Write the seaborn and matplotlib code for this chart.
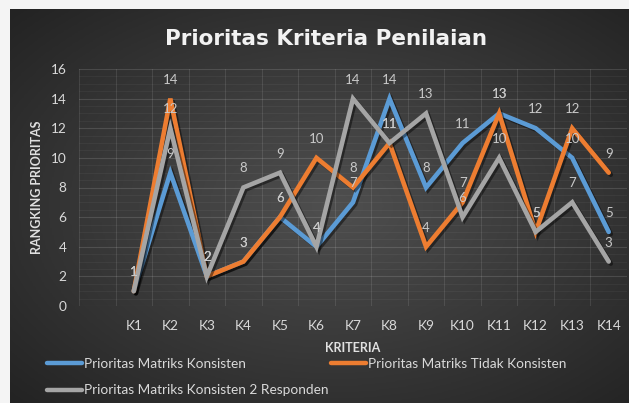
import numpy as np
import pandas as pd
import matplotlib.pyplot as plt
import matplotlib.patheffects as pe
from matplotlib.colors import LinearSegmentedColormap
from matplotlib.lines import Line2D
import seaborn as sns

# data
kriteria = ["K1", "K2", "K3", "K4", "K5", "K6", "K7", "K8", "K9", "K10", "K11", "K12", "K13", "K14"]
konsisten = [1, 9, 2, 3, 6, 4, 7, 14, 8, 11, 13, 12, 10, 5]
tidak_konsisten = [1, 14, 2, 3, 6, 10, 8, 11, 4, 7, 13, 5, 12, 9]
konsisten_2 = [1, 12, 2, 8, 9, 4, 14, 11, 13, 6, 10, 5, 7, 3]
seri = ["Prioritas Matriks Konsisten", "Prioritas Matriks Tidak Konsisten",
        "Prioritas Matriks Konsisten 2 Responden"]
warna = ["#5b9bd5", "#ed7d31", "#a5a5a5"]

sns.set_style("dark")
plt.rcParams["font.family"] = ["Lato", "DejaVu Sans"]

df = pd.DataFrame({
    "pos": list(range(len(kriteria))) * 3,
    "ranking": konsisten + tidak_konsisten + konsisten_2,
    "seri": np.repeat(seri, len(kriteria)),
})

fig = plt.figure(figsize=(6.29, 4.03), dpi=100)
fig.patch.set_facecolor("#f4f4f4")

# dark radial gradient background
bg = fig.add_axes([10 / 629, 0, 619 / 629, 394 / 403])
yy, xx = np.mgrid[0:1:300j, 0:1:400j]
d = np.clip(np.sqrt(((xx - 0.52) / 0.72) ** 2 + ((yy - 0.5) / 0.72) ** 2), 0, 1)
cmap = LinearSegmentedColormap.from_list("bg", ["#4f4f4f", "#232323"])
bg.imshow(d, cmap=cmap, aspect="auto", extent=(0, 1, 0, 1), vmin=0, vmax=1)
bg.axis("off")

ax = fig.add_axes([79 / 629, 97 / 403, 548 / 629, 237 / 403])
ax.patch.set_alpha(0)

sns.lineplot(data=df, x="pos", y="ranking", hue="seri", hue_order=seri,
             palette=warna, linewidth=3.3, legend=False, ax=ax)
for line in ax.lines:
    line.set_solid_joinstyle("miter")
    line.set_path_effects([pe.SimpleLineShadow(offset=(1.5, -1.5), shadow_color="black", alpha=0.45),
                           pe.Normal()])

# data labels
for vals in [konsisten, tidak_konsisten, konsisten_2]:
    for i, v in enumerate(vals):
        ax.annotate(str(v), (i, v), xytext=(0, 19), textcoords="offset pixels",
                    ha="center", va="center", color="#c9c9c9", fontsize=9.5)

ax.set_xlim(-1.5, 13.5)
ax.set_ylim(0, 16)
ax.set_xticks(range(len(kriteria)), kriteria)
ax.set_xticks(np.arange(-1.5, 13.6, 1), minor=True)
ax.set_yticks(range(0, 17, 2))
ax.set_yticks(np.arange(0, 16.1, 0.5), minor=True)
ax.grid(False)
ax.grid(True, which="major", axis="y", color="white", alpha=0.13, lw=0.8)
ax.grid(True, which="minor", axis="y", color="white", alpha=0.05, lw=0.6)
ax.grid(True, which="minor", axis="x", color="white", alpha=0.1, lw=0.8)
ax.tick_params(which="both", length=0, colors="#d9d9d9", labelsize=9.8)
ax.tick_params(axis="y", pad=9)
ax.tick_params(axis="x", pad=10)
for s in ax.spines.values():
    s.set_visible(False)

ax.set_ylabel("RANGKING PRIORITAS", fontweight="bold", color="#e0e0e0", fontsize=9)
ax.yaxis.set_label_coords(-0.066, 0.502)
ax.set_xlabel("KRITERIA", fontweight="bold", color="#e0e0e0", fontsize=9)
ax.xaxis.set_label_coords(0.5, -0.152)

fig.text(326 / 629, 1 - 39 / 403, "Prioritas Kriteria Penilaian", ha="center", va="center",
         fontsize=15.5, fontweight="bold", color="#f2f2f2", family=["DejaVu Sans"])

handles = [Line2D([], [], color=warna[0], lw=3.2),
           Line2D([], [], color=warna[2], lw=3.2),
           Line2D([], [], color=warna[1], lw=3.2)]
labels = [seri[0], seri[2], seri[1]]
leg = fig.legend(handles, labels, ncol=2, loc="upper left", bbox_to_anchor=(47 / 629, 1 - 358 / 403),
                 frameon=False, fontsize=9.8, handlelength=2.6, handletextpad=0.1,
                 columnspacing=0.2, labelspacing=1.05, borderpad=0, borderaxespad=0)
for t in leg.get_texts():
    t.set_color("#d9d9d9")

fig.savefig("out.png", dpi=100)
